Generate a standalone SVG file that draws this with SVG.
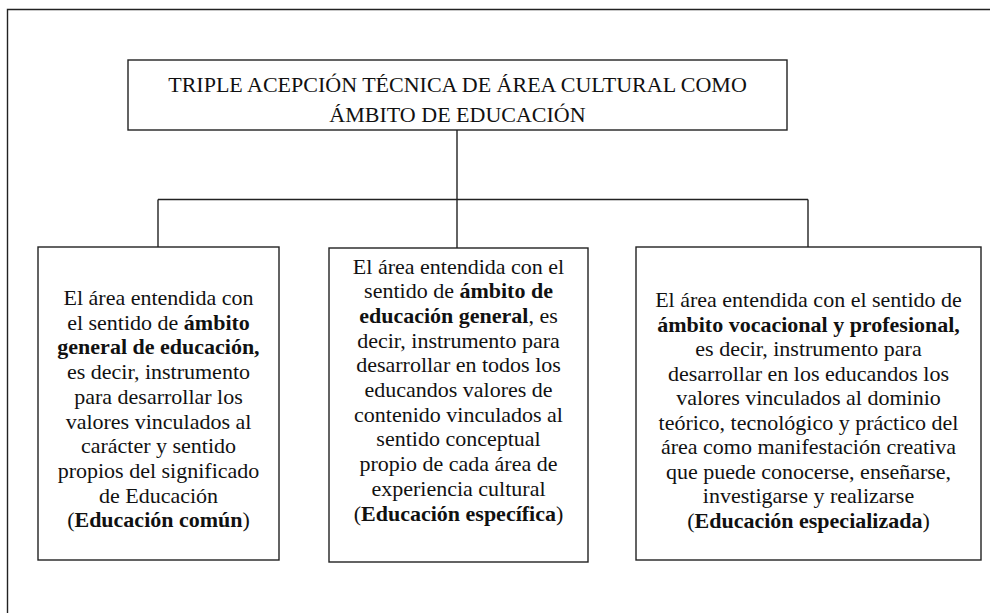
<svg xmlns="http://www.w3.org/2000/svg" width="990" height="613" viewBox="0 0 990 613">
<style>
.ln{stroke:#222;stroke-width:1.4;fill:none}
.box{stroke:#222;stroke-width:1.4;fill:#fff}
text{font-family:'Liberation Serif','Times New Roman',Times,serif;font-size:22px;fill:#111;text-anchor:middle}
.b{font-weight:bold}
</style>
<rect width="990" height="613" fill="#fff"/>
<g id="frame">
<path class="ln" d="M7.5,613 V9.5 H990"/>
</g>
<g id="connectors">
<path class="ln" d="M457,130 V248"/>
<path class="ln" d="M158,199.5 H808"/>
<path class="ln" d="M158,199.5 V247"/>
<path class="ln" d="M808,199.5 V247"/>
</g>
<g id="title">
<rect class="box" x="128" y="60" width="659" height="70"/>
<text x="457.5" y="91.5">TRIPLE ACEPCIÓN TÉCNICA DE ÁREA CULTURAL COMO</text>
<text x="457.5" y="121.5">ÁMBITO DE EDUCACIÓN</text>
</g>
<g id="box-left">
<rect class="box" x="38" y="247" width="241" height="313"/>
<text x="158.5" y="305">El área entendida con</text>
<text x="158.5" y="329.7">el sentido de <tspan class="b">ámbito</tspan></text>
<text class="b" x="158.5" y="354.4">general de educación,</text>
<text x="158.5" y="379.1">es decir, instrumento</text>
<text x="158.5" y="403.8">para desarrollar los</text>
<text x="158.5" y="428.5">valores vinculados al</text>
<text x="158.5" y="453.2">carácter y sentido</text>
<text x="158.5" y="477.9">propios del significado</text>
<text x="158.5" y="502.6">de Educación</text>
<text x="158.5" y="527.3">(<tspan class="b">Educación común</tspan>)</text>
</g>
<g id="box-center">
<rect class="box" x="329" y="248" width="259" height="314"/>
<text x="458.5" y="273.5">El área entendida con el</text>
<text x="458.5" y="298.2">sentido de <tspan class="b">ámbito de</tspan></text>
<text x="458.5" y="322.9"><tspan class="b">educación general</tspan>, es</text>
<text x="458.5" y="347.6">decir, instrumento para</text>
<text x="458.5" y="372.3">desarrollar en todos los</text>
<text x="458.5" y="397">educandos valores de</text>
<text x="458.5" y="421.7">contenido vinculados al</text>
<text x="458.5" y="446.4">sentido conceptual</text>
<text x="458.5" y="471.1">propio de cada área de</text>
<text x="458.5" y="495.8">experiencia cultural</text>
<text x="458.5" y="520.5">(<tspan class="b">Educación específica</tspan>)</text>
</g>
<g id="box-right">
<rect class="box" x="636" y="247" width="345" height="313"/>
<text x="808.5" y="307">El área entendida con el sentido de</text>
<text class="b" x="808.5" y="331.5">ámbito vocacional y profesional,</text>
<text x="808.5" y="356">es decir, instrumento para</text>
<text x="808.5" y="380.5">desarrollar en los educandos los</text>
<text x="808.5" y="405">valores vinculados al dominio</text>
<text x="808.5" y="429.5">teórico, tecnológico y práctico del</text>
<text x="808.5" y="454">área como manifestación creativa</text>
<text x="808.5" y="478.5">que puede conocerse, enseñarse,</text>
<text x="808.5" y="503">investigarse y realizarse</text>
<text x="808.5" y="527.5">(<tspan class="b">Educación especializada</tspan>)</text>
</g>
</svg>
